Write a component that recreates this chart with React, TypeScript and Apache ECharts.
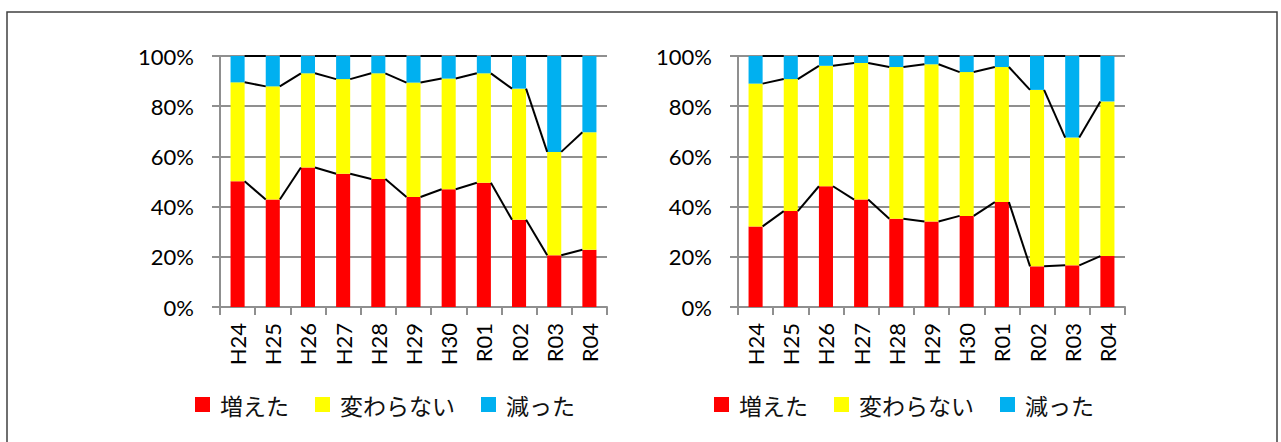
import React, { useEffect, useRef } from "react";
import * as echarts from "echarts";

const categories = ["H24", "H25", "H26", "H27", "H28", "H29", "H30", "R01", "R02", "R03", "R04"];
const seriesNames = ["増えた", "変わらない", "減った"];
const colors = ["#FF0000", "#FFFF00", "#00B0F0"];

// Left chart (%)
const inc1 = [50.1, 42.8, 55.6, 53.1, 51.0, 43.8, 46.9, 49.5, 34.8, 20.6, 22.8];
const same1 = [39.4, 45.1, 37.5, 37.7, 42.1, 45.6, 44.1, 43.6, 52.2, 41.2, 46.8];
const dec1 = [10.5, 12.1, 6.9, 9.2, 6.9, 10.6, 9.0, 6.9, 13.0, 38.2, 30.4];

// Right chart (%)
const inc2 = [32.1, 38.2, 48.1, 42.8, 35.2, 34.1, 36.3, 41.8, 16.2, 16.6, 20.3];
const same2 = [56.9, 52.6, 48.0, 54.4, 60.4, 62.6, 57.3, 53.8, 70.3, 50.9, 61.6];
const dec2 = [11.0, 9.2, 3.9, 2.8, 4.4, 3.3, 6.4, 4.4, 13.5, 32.5, 18.1];

const yTicks = [0, 20, 40, 60, 80, 100];

const FONT = "Lato";
const CJK = "'Noto Sans CJK JP'";
const GRID_COLOR = "#8f8f8f";
const BAR_FRAC = 0.4;

function buildSeries(idx: number, inc: number[], same: number[], dec: number[]) {
  const data = [inc, same, dec];
  const bars = seriesNames.map((name, k) => ({
    type: "bar",
    name,
    stack: "s" + idx,
    xAxisIndex: idx,
    yAxisIndex: idx,
    barWidth: BAR_FRAC * 100 + "%",
    itemStyle: { color: colors[k] },
    data: data[k],
    z: 2,
  }));
  const lvl1 = inc;
  const lvl2 = inc.map((v, i) => v + same[i]);
  const lvl3 = inc.map((v, i) => v + same[i] + dec[i]);
  const levels = [lvl1, lvl2, lvl3];
  const lines = {
    type: "custom",
    xAxisIndex: idx,
    yAxisIndex: idx,
    z: 5,
    clip: false,
    silent: true,
    data: categories.slice(0, -1).map((_, i) => [i, 0]),
    renderItem: (params: any, api: any) => {
      const i = api.value(0);
      const band = api.size([1, 0])[0];
      const half = band * BAR_FRAC / 2;
      const children = levels.map((lv) => {
        const p1 = api.coord([i, lv[i]]);
        const p2 = api.coord([i + 1, lv[i + 1]]);
        return {
          type: "line",
          shape: { x1: p1[0] + half, y1: p1[1], x2: p2[0] - half, y2: p2[1] },
          style: { stroke: "#000", lineWidth: 2 },
        };
      });
      return { type: "group", children };
    },
  };
  return [...bars, lines];
}

function axisPair(idx: number) {
  const x = {
    type: "category",
    gridIndex: idx,
    data: categories,
    boundaryGap: true,
    axisLine: { show: true, lineStyle: { color: GRID_COLOR, width: 2 } },
    axisTick: { show: true, length: 8, lineStyle: { color: GRID_COLOR, width: 2 } },
    axisLabel: { rotate: 90, margin: 16, fontSize: 22, fontFamily: FONT, color: "#000" },
  };
  const y = {
    type: "value",
    gridIndex: idx,
    min: yTicks[0],
    max: yTicks[yTicks.length - 1],
    interval: 20,
    axisLine: { show: true, lineStyle: { color: GRID_COLOR, width: 2 } },
    axisTick: { show: true, length: 8, lineStyle: { color: GRID_COLOR, width: 2 } },
    splitLine: { show: true, lineStyle: { color: GRID_COLOR, width: 2 } },
    axisLabel: { formatter: "{value}%", margin: 26, fontSize: 22, fontFamily: FONT, color: "#000" },
  };
  return { x, y };
}

export default function App() {
  const ref = useRef<HTMLDivElement>(null);
  useEffect(() => {
    document.body.style.margin = "0";
    if (!ref.current) return;
    const chart = echarts.init(ref.current, null, { renderer: "svg" });
    const a0 = axisPair(0);
    const a1 = axisPair(1);
    const legendBase = {
      data: seriesNames,
      icon: "rect",
      padding: 0,
      itemWidth: 15,
      itemHeight: 15,
      itemGap: 26,
      selectedMode: false,
      textStyle: { fontSize: 23, fontFamily: CJK, color: "#111", padding: [0, 0, 0, 5] },
    };
    chart.setOption({
      animation: false,
      backgroundColor: "#fff",
      graphic: [
        {
          type: "rect",
          shape: { x: 7, y: 12, width: 1270, height: 440 },
          style: { fill: "none", stroke: "#404040", lineWidth: 1.5 },
          z: 100,
        },
      ],
      grid: [
        { left: 220, top: 56, width: 387, height: 251 },
        { left: 738, top: 56, width: 387, height: 251 },
      ],
      xAxis: [a0.x, a1.x],
      yAxis: [a0.y, a1.y],
      legend: [
        { ...legendBase, left: 195, top: 393 },
        { ...legendBase, left: 714, top: 393 },
      ],
      series: [...buildSeries(0, inc1, same1, dec1), ...buildSeries(1, inc2, same2, dec2)],
    });
    return () => chart.dispose();
  }, []);
  return <div ref={ref} style={{ width: 1281, height: 442 }} />;
}
